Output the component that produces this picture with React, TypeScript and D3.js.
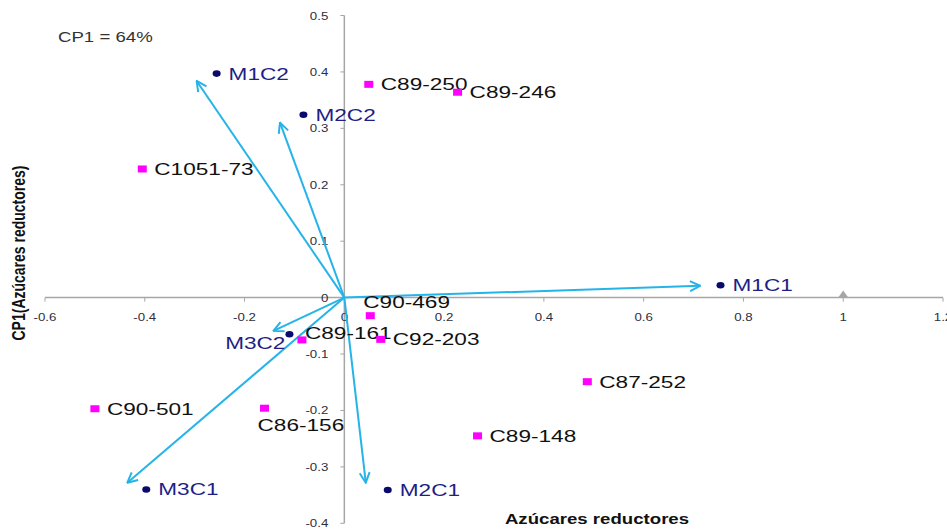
import React from "react";
import * as d3 from "d3";

// variables (loadings) - dark blue dots + arrows
const varNames = ["M1C1", "M1C2", "M2C1", "M2C2", "M3C1", "M3C2"];
const varX = [0.754, -0.256, 0.087, -0.082, -0.397, -0.11];
const varY = [0.022, 0.397, -0.341, 0.324, -0.34, -0.065];
const arrowX = [0.713, -0.296, 0.043, -0.129, -0.435, -0.142];
const arrowY = [0.021, 0.384, -0.328, 0.31, -0.328, -0.059];

// cultivars - magenta squares
const cultNames = [
  "C89-250", "C89-246", "C1051-73", "C90-469", "C89-161",
  "C92-203", "C87-252", "C90-501", "C86-156", "C89-148",
];
const cultX = [0.049, 0.227, -0.405, 0.052, -0.085, 0.073, 0.487, -0.5, -0.16, 0.267];
const cultY = [0.378, 0.364, 0.228, -0.032, -0.075, -0.074, -0.149, -0.197, -0.196, -0.245];

// reference point (gray triangle)
const refX = [1];
const refY = [0];

const xTicks = [-0.6, -0.4, -0.2, 0, 0.2, 0.4, 0.6, 0.8, 1, 1.2];
const yTicks = [-0.4, -0.3, -0.2, -0.1, 0, 0.1, 0.2, 0.3, 0.4, 0.5];

// label nudges (px) where the default "right of marker" doesn't apply
const labelNudge: Record<string, { dx: number; dy: number; anchor?: string }> = {
  "C90-469": { dx: -7, dy: -14 },
  "M3C2": { dx: -4, dy: 9, anchor: "end" },
  "C89-161": { dx: 3, dy: -7 },
  "C86-156": { dx: -7, dy: 17 },
};

const SX = 1.33; // the picture is stretched horizontally
const FONT = "'Liberation Sans', Arial, sans-serif";

const SText = ({ x, y, children, size, fill, anchor = "start", weight = "normal" }: any) => (
  <text
    transform={`translate(${x},${y}) scale(${SX},1)`}
    fontSize={size}
    fill={fill}
    textAnchor={anchor}
    fontWeight={weight}
    fontFamily={FONT}
  >
    {children}
  </text>
);

export default function App() {
  const width = 947;
  const height = 530;

  const x = d3.scaleLinear().domain([-0.6, 1.2]).range([45, 943]);
  const y = d3.scaleLinear().domain([-0.4, 0.5]).range([523.3, 15.5]);
  const x0 = x(0);
  const y0 = y(0);

  const axisColor = "#a6a6a6";
  const arrowColor = "#25b4e8";
  const navy = "#0a0a6e";
  const navyText = "#1e1e86";
  const pink = "#ff00ff";

  const label = (name: string, px: number, py: number, fill: string) => {
    const n = labelNudge[name] || { dx: 12, dy: 0 };
    return (
      <SText key={"l" + name} x={px + n.dx} y={py + n.dy + 6} size={17} fill={fill} anchor={n.anchor || "start"}>
        {name}
      </SText>
    );
  };

  return (
    <svg
      width={width}
      height={height}
      style={{ position: "absolute", left: 0, top: 0, background: "#fff" }}
    >
      <defs>
        <marker
          id="arr"
          viewBox="0 0 12 12"
          refX="11"
          refY="6"
          markerWidth="12"
          markerHeight="12"
          markerUnits="userSpaceOnUse"
          orient="auto"
        >
          <path d="M1,1 L11,6 L1,11" fill="none" stroke={arrowColor} strokeWidth={2} />
        </marker>
      </defs>

      {/* axes */}
      <line x1={x(-0.6)} x2={x(1.2)} y1={y0} y2={y0} stroke={axisColor} strokeWidth={1.5} />
      <line x1={x0} x2={x0} y1={y(-0.4)} y2={y(0.5)} stroke={axisColor} strokeWidth={1.5} />
      {xTicks.map((t) => (
        <g key={"xt" + t}>
          <line x1={x(t)} x2={x(t)} y1={y0} y2={y0 + 4} stroke={axisColor} />
          <SText x={x(t)} y={y0 + 23} size={10} fill="#2e2e3e" anchor="middle">
            {d3.format("")(t).replace("−", "-")}
          </SText>
        </g>
      ))}
      {yTicks.map((t) => (
        <g key={"yt" + t}>
          <line x1={x0 - 4} x2={x0} y1={y(t)} y2={y(t)} stroke={axisColor} />
          <SText x={x0 - 16} y={y(t) + 4} size={10} fill="#2e2e3e" anchor="end">
            {d3.format("")(t).replace("−", "-")}
          </SText>
        </g>
      ))}

      {/* reference triangle */}
      {refX.map((v, i) => (
        <path
          key={"r" + i}
          d={`M${x(v) - 5},${y(refY[i])} L${x(v) + 5},${y(refY[i])} L${x(v)},${y(refY[i]) - 7}Z`}
          fill="#a6a6a6"
        />
      ))}

      {/* arrows */}
      {arrowX.map((v, i) => (
        <line
          key={"a" + i}
          x1={x0}
          y1={y0}
          x2={x(v)}
          y2={y(arrowY[i])}
          stroke={arrowColor}
          strokeWidth={2}
          markerEnd="url(#arr)"
        />
      ))}

      {/* cultivars */}
      {cultNames.map((n, i) => (
        <g key={"c" + n}>
          <rect x={x(cultX[i]) - 4.5} y={y(cultY[i]) - 3.5} width={9} height={7} fill={pink} />
          {label(n, x(cultX[i]), y(cultY[i]), "#111")}
        </g>
      ))}

      {/* variables */}
      {varNames.map((n, i) => (
        <g key={"v" + n}>
          <ellipse cx={x(varX[i])} cy={y(varY[i])} rx={4} ry={3.3} fill={navy} />
          {label(n, x(varX[i]), y(varY[i]), navyText)}
        </g>
      ))}

      <SText x={58} y={42} size={14} fill="#333">CP1 = 64%</SText>

      <SText x={597} y={524} size={14} fill="#111" anchor="middle" weight="bold">
        Azúcares reductores
      </SText>
      <text
        transform={`translate(25,253) scale(${SX},1) rotate(-90)`}
        fontSize={14}
        fontWeight="bold"
        fill="#111"
        textAnchor="middle"
        fontFamily={FONT}
      >
        CP1(Azúcares reductores)
      </text>
    </svg>
  );
}
